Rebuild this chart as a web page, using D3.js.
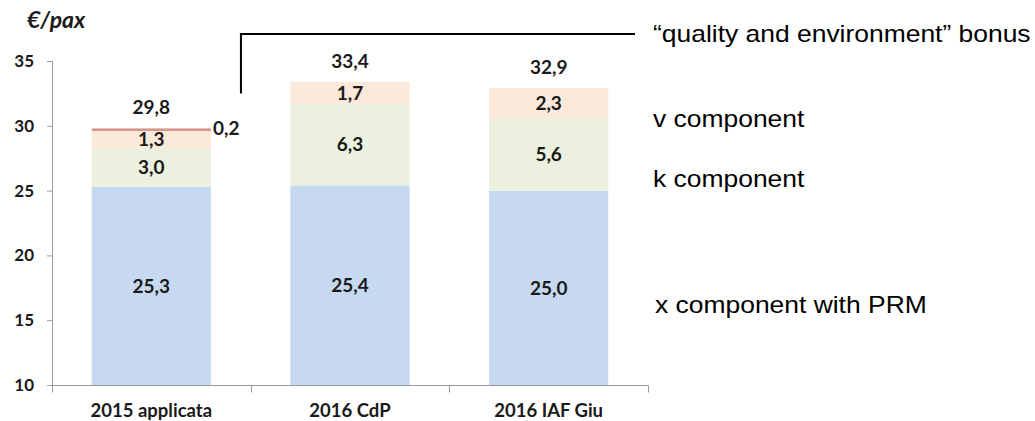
<!DOCTYPE html>
<html>
<head>
<meta charset="utf-8">
<script src="https://cdn.jsdelivr.net/npm/d3@7"></script>
<style>
  html, body { margin: 0; padding: 0; background: #fff; }
  svg { display: block; }
</style>
</head>
<body>
<svg id="chart" width="1035" height="421"></svg>
<script>
// ---- data ----
const categories = ["2015 applicata", "2016 CdP", "2016 IAF Giu"];
const xComponent = [25.3, 25.4, 25.0];
const kComponent = [3.0, 6.3, 5.6];
const vComponent = [1.3, 1.7, 2.3];
const bonusComponent = [0.2, 0, 0];
const totals = [29.8, 33.4, 32.9];
const yTickValues = [10, 15, 20, 25, 30, 35];
const seriesKeys = ["x", "k", "v", "bonus"];
const legendLabels = ["x component with PRM", "k component", "v component", "\u201Cquality and environment\u201D bonus"];
const unitLabel = "\u20AC/pax";

// ---- build table ----
const table = categories.map((c, i) => ({
  cat: c, x: xComponent[i], k: kComponent[i], v: vComponent[i], bonus: bonusComponent[i], total: totals[i]
}));

const svg = d3.select("#chart");
const colors = { x: "#C6D9F0", k: "#EBF1DE", v: "#FDE9D9", bonus: "#D4958A" };
const chartFont = "Lato, 'Open Sans', sans-serif";
const textColor = "#1a1a1a";
const locale = d3.formatLocale({ decimal: ",", thousands: ".", grouping: [3], currency: ["", "€"] });
const fmt = locale.format(".1f");

const x = d3.scaleBand().domain(categories).range([52, 648]).paddingInner(0.4).paddingOuter(0.2);
const y = d3.scaleLinear().domain([10, 35]).range([385, 61]);

// ---- bars ----
const stack = d3.stack().keys(seriesKeys);
const stacked = stack(table);

const layer = svg.append("g").selectAll("g")
  .data(stacked).join("g")
  .attr("fill", d => colors[d.key]);

layer.selectAll("rect")
  .data(d => d.map(s => ({ s, key: d.key })))
  .join("rect")
  .attr("x", d => x(d.s.data.cat))
  .attr("width", x.bandwidth())
  .attr("y", d => y(Math.max(10, d.s[1])))
  .attr("height", d => Math.max(0, y(Math.max(10, d.s[0])) - y(Math.max(10, d.s[1]))));

// ---- y axis ----
const yAxis = d3.axisLeft(y).tickValues(yTickValues).tickSize(5).tickPadding(13).tickFormat(d3.format("d"));
const gy = svg.append("g").attr("transform", "translate(52,0)").call(yAxis);
gy.select(".domain").attr("stroke", "#9A9A9A").attr("d", "M-5,61.5H0.5V385");
gy.selectAll(".tick line").attr("stroke", "#9A9A9A");
gy.selectAll(".tick text").attr("font-family", chartFont).attr("font-weight", "bold")
  .attr("font-size", "17px").attr("fill", textColor);

// ---- x axis ----
const xAxis = d3.axisBottom(x).tickSize(0).tickPadding(18);
const gx = svg.append("g").attr("transform", "translate(0,385.5)").call(xAxis);
gx.select(".domain").attr("stroke", "#9A9A9A").attr("d", "M52,0H648");
gx.selectAll(".tick text").attr("font-family", chartFont).attr("font-weight", "bold")
  .attr("font-size", "18.5px").attr("fill", textColor);
const boundaries = d3.range(categories.length + 1).map(i => x.range()[0] + i * x.step());
gx.selectAll(".bound").data(boundaries).join("line")
  .attr("class", "bound")
  .attr("x1", d => Math.round(d) + 0.5).attr("x2", d => Math.round(d) + 0.5)
  .attr("y1", 0).attr("y2", 7)
  .attr("stroke", "#9A9A9A");

// ---- segment labels ----
const labelG = svg.append("g").attr("font-family", chartFont).attr("font-weight", "bold")
  .attr("font-size", "19px").attr("fill", textColor);
stacked.filter(s => s.key !== "bonus").forEach(s => {
  labelG.selectAll(null).data(s).join("text")
    .attr("x", d => x(d.data.cat) + x.bandwidth() / 2)
    .attr("y", d => y((Math.max(10, d[0]) + d[1]) / 2))
    .attr("dy", "0.36em")
    .attr("text-anchor", "middle")
    .text(d => fmt(d[1] - d[0]));
});
// bonus label (only when present), to the right of the bar
const bonusLayer = stacked.find(s => s.key === "bonus");
labelG.selectAll(null).data(bonusLayer.filter(d => d[1] - d[0] > 0)).join("text")
  .attr("x", d => x(d.data.cat) + x.bandwidth() + 2)
  .attr("y", d => y((d[0] + d[1]) / 2) - 2)
  .attr("dy", "0.36em")
  .text(d => fmt(d[1] - d[0]));
// totals
labelG.selectAll(null).data(table).join("text")
  .attr("x", d => x(d.cat) + x.bandwidth() / 2)
  .attr("y", d => y(d.total) - 21)
  .attr("dy", "0.36em")
  .attr("text-anchor", "middle")
  .text(d => fmt(d.total));

// ---- unit title ----
svg.append("text").attr("x", 27).attr("y", 28)
  .attr("font-family", chartFont).attr("font-weight", "bold").attr("font-style", "italic")
  .attr("font-size", "23px").attr("fill", textColor).text(unitLabel);

// ---- callout for bonus ----
const b0 = table[0];
const calloutX = x(b0.cat) + x.bandwidth() + 30;
const calloutBottom = y(b0.total) - 35;
svg.append("path")
  .attr("d", `M${calloutX},${calloutBottom}V34H635`)
  .attr("fill", "none").attr("stroke", "#000").attr("stroke-width", 2);

// ---- legend texts on right ----
const legendBaselines = [313, 187, 127, 42];
const legG = svg.append("g").attr("font-family", "'Liberation Sans', Arial, sans-serif")
  .attr("font-size", "23px").attr("fill", "#000");
legendLabels.forEach((t, i) => {
  legG.append("text")
    .attr("transform", `translate(${i === 0 ? 655 : 653},${legendBaselines[i]}) scale(1.15,1)`)
    .text(t);
});
</script>
</body>
</html>
